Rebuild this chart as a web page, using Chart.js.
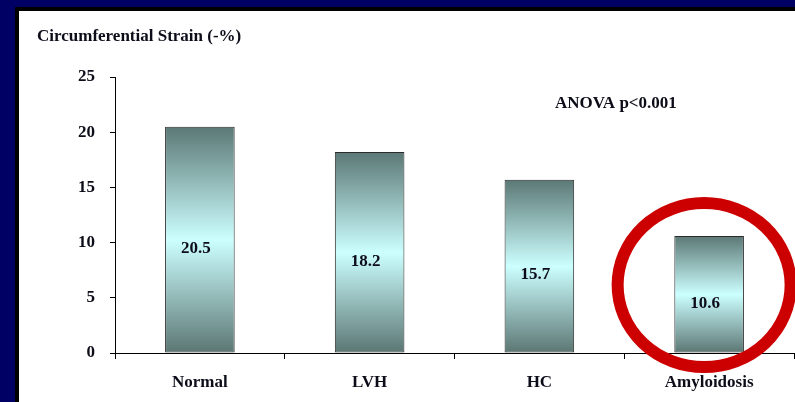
<!DOCTYPE html>
<html>
<head>
<meta charset="utf-8">
<script src="https://cdn.jsdelivr.net/npm/chart.js@4.4.1/dist/chart.umd.min.js"></script>
<style>
  html, body { margin: 0; padding: 0; background: #000064; overflow: hidden; }
  #panel { position: absolute; left: 15px; top: 7px; width: 800px; height: 420px;
           background: #ffffff; border-left: 4px solid #000; border-top: 4px solid #000; }
  #wrap { position: absolute; left: 0; top: 0; width: 795px; height: 402px; }
</style>
</head>
<body>
<div id="panel"></div>
<div id="wrap"><canvas id="grafico"></canvas></div>
<script>
const categories = ["Normal", "LVH", "HC", "Amyloidosis"];
const strainValues = [20.5, 18.2, 15.7, 10.6];
const yMin = 0, yMax = 25, yStep = 5;
const chartTitle = "Circumferential Strain (-%)";
const anovaNote = "ANOVA p<0.001";

const serif = "'Liberation Serif', 'Times New Roman', serif";
const textColor = "#0d0d1a";

function barGradient(ctx) {
  const chart = ctx.chart;
  if (!chart.chartArea || !chart.scales.y) return "#9cc";
  const y = chart.scales.y;
  const top = y.getPixelForValue(ctx.raw);
  const base = y.getPixelForValue(0);
  const g = chart.ctx.createLinearGradient(0, top, 0, base);
  g.addColorStop(0, "#5b7875");
  g.addColorStop(0.5, "#ccffff");
  g.addColorStop(1, "#5b7673");
  return g;
}

// textos y elipse roja
const extras = {
  id: "extras",
  afterDatasetsDraw(chart) {
    const c = chart.ctx;
    const meta = chart.getDatasetMeta(0);
    c.save();
    c.font = "bold 17px " + serif;
    c.fillStyle = textColor;
    c.textAlign = "center";
    c.textBaseline = "middle";
    meta.data.forEach((bar, i) => {
      c.fillText(strainValues[i].toFixed(1), bar.x - 4, (bar.y + bar.base) / 2 + 9);
    });
    c.textAlign = "left";
    c.fillText(chartTitle, 37, 37);
    c.fillText(anovaNote, 555, 104);

    // circulo rojo en Amyloidosis
    const xs = chart.scales.x, ys = chart.scales.y;
    c.beginPath();
    c.ellipse(xs.getPixelForValue(3) - 5, ys.getPixelForValue(6.15), 86.5, 82, 0, 0, Math.PI * 2);
    c.lineWidth = 12;
    c.strokeStyle = "#cc0000";
    c.stroke();
    c.restore();
  }
};

new Chart(document.getElementById("grafico"), {
  type: "bar",
  data: {
    labels: categories,
    datasets: [{
      label: chartTitle,
      data: strainValues,
      backgroundColor: barGradient,
      borderColor: "#2b2b2b",
      borderWidth: 1,
      borderSkipped: false,
      barPercentage: 0.41,
      categoryPercentage: 1
    }]
  },
  options: {
    responsive: true,
    maintainAspectRatio: false,
    animation: false,
    layout: { padding: { top: 77, right: 1, bottom: 0, left: 0 } },
    plugins: { legend: { display: false }, tooltip: { enabled: false } },
    scales: {
      x: {
        grid: { display: true, drawOnChartArea: false, tickLength: 6, color: "#000", offset: true },
        border: { display: true, color: "#000", width: 1 },
        ticks: { font: { family: serif, size: 17, weight: "bold" }, color: textColor, padding: 13, maxRotation: 0 },
        afterFit(s) { s.height = 49; }
      },
      y: {
        min: yMin,
        max: yMax,
        grid: { display: true, drawOnChartArea: false, tickLength: 5, color: "#000" },
        border: { display: true, color: "#000", width: 1 },
        ticks: { stepSize: yStep, font: { family: serif, size: 17, weight: "bold" }, color: textColor, padding: 15 },
        afterFit(s) { s.width = 115; }
      }
    }
  },
  plugins: [extras]
});
</script>
</body>
</html>
